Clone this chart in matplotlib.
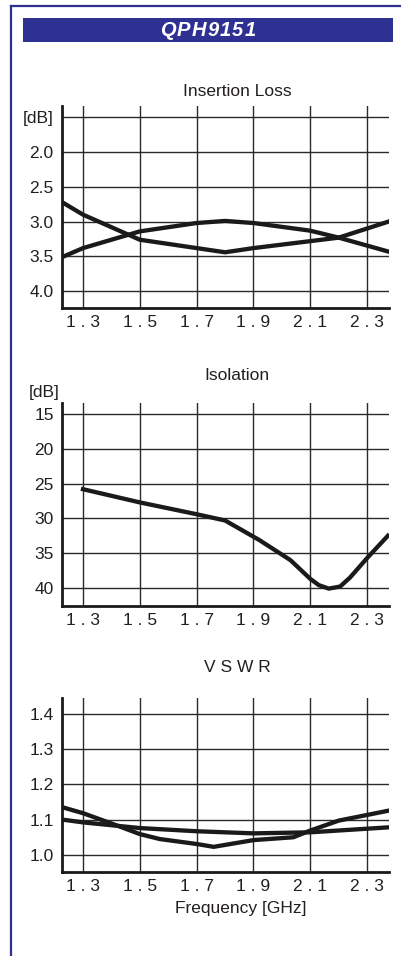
import matplotlib
matplotlib.use("Agg")
import matplotlib.pyplot as plt
from matplotlib.patches import Rectangle
from matplotlib.lines import Line2D

plt.rcParams['font.family'] = ['Liberation Sans', 'DejaVu Sans']

# frequency axis
freq_ticks = [1.3, 1.5, 1.7, 1.9, 2.1, 2.3]
freq_labels = ['1 . 3', '1 . 5', '1 . 7', '1 . 9', '2 . 1', '2 . 3']

# insertion loss [dB]
il_freq = [1.226, 1.3, 1.5, 1.7, 1.8, 1.9, 2.1, 2.2, 2.375]
il_a = [2.72, 2.90, 3.26, 3.38, 3.44, 3.38, 3.28, 3.23, 3.00]
il_b = [3.51, 3.38, 3.14, 3.02, 2.99, 3.02, 3.13, 3.23, 3.43]
il_ticks = [1.5, 2.0, 2.5, 3.0, 3.5, 4.0]
il_labels = ['[dB]', '2.0', '2.5', '3.0', '3.5', '4.0']

# isolation [dB]
iso_freq = [1.3, 1.5, 1.7, 1.8, 1.92, 2.03, 2.1, 2.13, 2.165, 2.205, 2.24, 2.3, 2.373]
iso = [25.8, 27.7, 29.4, 30.3, 33.1, 36.0, 38.7, 39.6, 40.1, 39.8, 38.5, 35.7, 32.5]
iso_ticks = [15, 20, 25, 30, 35, 40]

# VSWR
vswr_freq_a = [1.226, 1.3, 1.4, 1.5, 1.57, 1.7, 1.76, 1.9, 2.04, 2.1, 2.2, 2.375]
vswr_a = [1.136, 1.119, 1.090, 1.060, 1.046, 1.032, 1.024, 1.043, 1.051, 1.070, 1.098, 1.126]
vswr_freq_b = [1.226, 1.3, 1.5, 1.7, 1.9, 2.1, 2.375]
vswr_b = [1.101, 1.093, 1.077, 1.068, 1.062, 1.065, 1.079]
vswr_ticks = [1.0, 1.1, 1.2, 1.3, 1.4]

title = 'QPH9151'

W, H = 402, 956
blue = '#2e3192'
txt = '#231f20'
ink = '#1a1a1a'

fig = plt.figure(figsize=(W / 100, H / 100), dpi=100)

# frame + banner
fig.add_artist(Line2D([11.5 / W, 11.5 / W], [0, 1 - 5.5 / H], color=blue, lw=1.6))
fig.add_artist(Line2D([11.5 / W, 1], [1 - 6 / H, 1 - 6 / H], color=blue, lw=1.6))
fig.add_artist(Rectangle((23 / W, 1 - 42 / H), 370 / W, 24 / H, color=blue, lw=0))

# letter-spaced banner title, laid out char by char
renderer = fig.canvas.get_renderer()
gap = 1.2
chars = []
for ch in title:
    t = fig.text(0, 1 - 30 / H, ch, color='white', fontsize=14.5,
                 fontweight='bold', fontstyle='italic', ha='left', va='center')
    chars.append((t, t.get_window_extent(renderer).width))
total = sum(w for _, w in chars) + gap * (len(chars) - 1)
x = 208 - total / 2
for t, w in chars:
    t.set_x(x / W)
    x += w + gap


def panel(top, bottom, ylim, yticks, ylabels, title, title_y):
    ax = fig.add_axes([62 / W, 1 - bottom / H, (389 - 62) / W, (bottom - top) / H])
    ax.set_xlim(1.226, 2.377)
    ax.set_ylim(*ylim)
    ax.set_xticks(freq_ticks)
    ax.set_xticklabels(freq_labels)
    ax.set_yticks(yticks)
    ax.set_yticklabels(ylabels)
    ax.grid(True, color='#2a2a2a', lw=1.0)
    ax.set_axisbelow(True)
    for s in ['top', 'right']:
        ax.spines[s].set_visible(False)
    for s in ['left', 'bottom']:
        ax.spines[s].set_linewidth(2.0)
        ax.spines[s].set_color(ink)
    ax.tick_params(length=0, labelsize=12.5, labelcolor=txt, pad=5)
    ax.tick_params(axis='y', pad=6)
    fig.text(237 / W, 1 - title_y / H, title, fontsize=12.5, color=txt,
             ha='center', va='center')
    return ax


ax1 = panel(106, 308, (4.24, 1.34), il_ticks, il_labels, 'Insertion Loss', 92)
ax1.plot(il_freq, il_a, color=ink, lw=3.1, solid_joinstyle='round')
ax1.plot(il_freq, il_b, color=ink, lw=3.1, solid_joinstyle='round')

ax2 = panel(403, 606, (42.6, 13.4), iso_ticks, [str(t) for t in iso_ticks], 'Isolation', 376)
ax2.plot(iso_freq, iso, color=ink, lw=3.1, solid_joinstyle='round')
fig.text(60 / W, 1 - 393 / H, '[dB]', fontsize=12.5, color=txt, ha='right', va='center')

ax3 = panel(698, 872, (0.953, 1.444), vswr_ticks, ['%.1f' % t for t in vswr_ticks], 'V S W R', 668)
ax3.plot(vswr_freq_a, vswr_a, color=ink, lw=3.1, solid_joinstyle='round')
ax3.plot(vswr_freq_b, vswr_b, color=ink, lw=3.1, solid_joinstyle='round')
fig.text(241 / W, 1 - 909 / H, 'Frequency [GHz]', fontsize=12.5, color=txt,
         ha='center', va='center')

fig.savefig('out.png', dpi=100)
